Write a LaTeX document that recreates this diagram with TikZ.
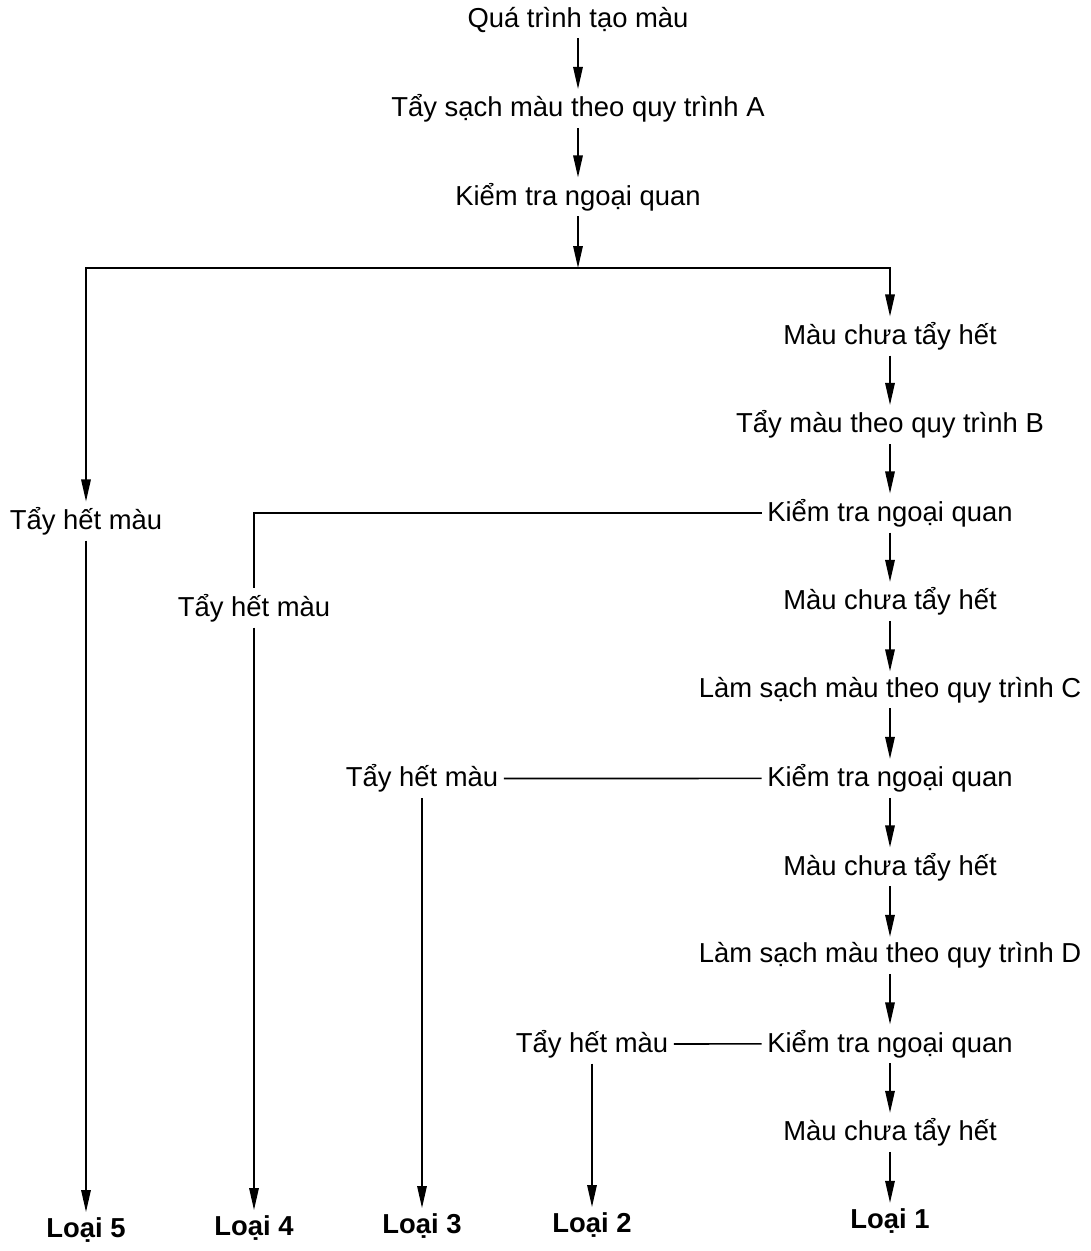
\documentclass[tikz,border=0pt]{standalone}
\usepackage{fontspec}
\setmainfont{Liberation Sans}
\usepackage{tikz}
\usetikzlibrary{arrows.meta,positioning}
\tikzset{
  stage/.style={font=\fontsize{15.6}{18}\selectfont, inner sep=3pt},
  grade/.style={font=\fontsize{15.6}{18}\selectfont\bfseries, inner sep=3pt},
  flow/.style={-{Triangle[length=4.4mm, width=1.9mm]}, line width=0.9pt},
  link/.style={line width=0.9pt}
}

\begin{document}
\begin{tikzpicture}[x=0.02cm, y=-0.02cm, node distance=1.77cm, on grid]
  \useasboundingbox (0,0) rectangle (1090,1251);
  % main column
  \node[stage] (start) at (578,20) {Quá trình tạo màu};
  \node[stage, below=of start] (procA) {Tẩy sạch màu theo quy trình A};
  \node[stage, below=of procA] (check0) {Kiểm tra ngoại quan};
  \coordinate (fork) at (578,268);
  \node[stage] (remain1) at (890,336) {Màu chưa tẩy hết};
  \node[stage, below=of remain1] (procB) {Tẩy màu theo quy trình B};
  \node[stage, below=of procB] (check1) {Kiểm tra ngoại quan};
  \node[stage, below=of check1] (remain2) {Màu chưa tẩy hết};
  \node[stage, below=of remain2] (procC) {Làm sạch màu theo quy trình C};
  \node[stage, below=of procC] (check2) {Kiểm tra ngoại quan};
  \node[stage, below=of check2] (remain3) {Màu chưa tẩy hết};
  \node[stage, below=of remain3] (procD) {Làm sạch màu theo quy trình D};
  \node[stage, below=of procD] (check3) {Kiểm tra ngoại quan};
  \node[stage, below=of check3] (remain4) {Màu chưa tẩy hết};
  \node[grade, below=of remain4] (grade1) {Loại 1};
  % side branches
  \node[stage] (clear5) at (86,521) {Tẩy hết màu};
  \node[stage] (clear4) at (254,608) {Tẩy hết màu};
  \node[stage] (clear3) at (422,778.5) {Tẩy hết màu};
  \node[stage] (clear2) at (592,1044) {Tẩy hết màu};
  \node[grade] (grade5) at (86,1230) {Loại 5};
  \node[grade] (grade4) at (254,1228) {Loại 4};
  \node[grade] (grade3) at (422,1226) {Loại 3};
  \node[grade] (grade2) at (592,1225) {Loại 2};
  \draw[flow] (start) -- (procA);
  \draw[flow] (procA) -- (check0);
  \draw[flow] (check0) -- (fork);
  \draw[flow] (fork) -| (remain1);
  \draw[flow] (fork) -| (clear5);
  \draw[flow] (remain1) -- (procB);
  \draw[flow] (procB) -- (check1);
  \draw[flow] (check1) -- (remain2);
  \draw[flow] (remain2) -- (procC);
  \draw[flow] (procC) -- (check2);
  \draw[flow] (check2) -- (remain3);
  \draw[flow] (remain3) -- (procD);
  \draw[flow] (procD) -- (check3);
  \draw[flow] (check3) -- (remain4);
  \draw[flow] (remain4) -- (grade1);
  \draw[link] (check1) -| (clear4);
  \draw[link] (check2) -- (clear3);
  \draw[link] (check3) -- (clear2);
  \draw[flow] (clear5) -- (grade5);
  \draw[flow] (clear4) -- (grade4);
  \draw[flow] (clear3) -- (grade3);
  \draw[flow] (clear2) -- (grade2);
\end{tikzpicture}
\end{document}
